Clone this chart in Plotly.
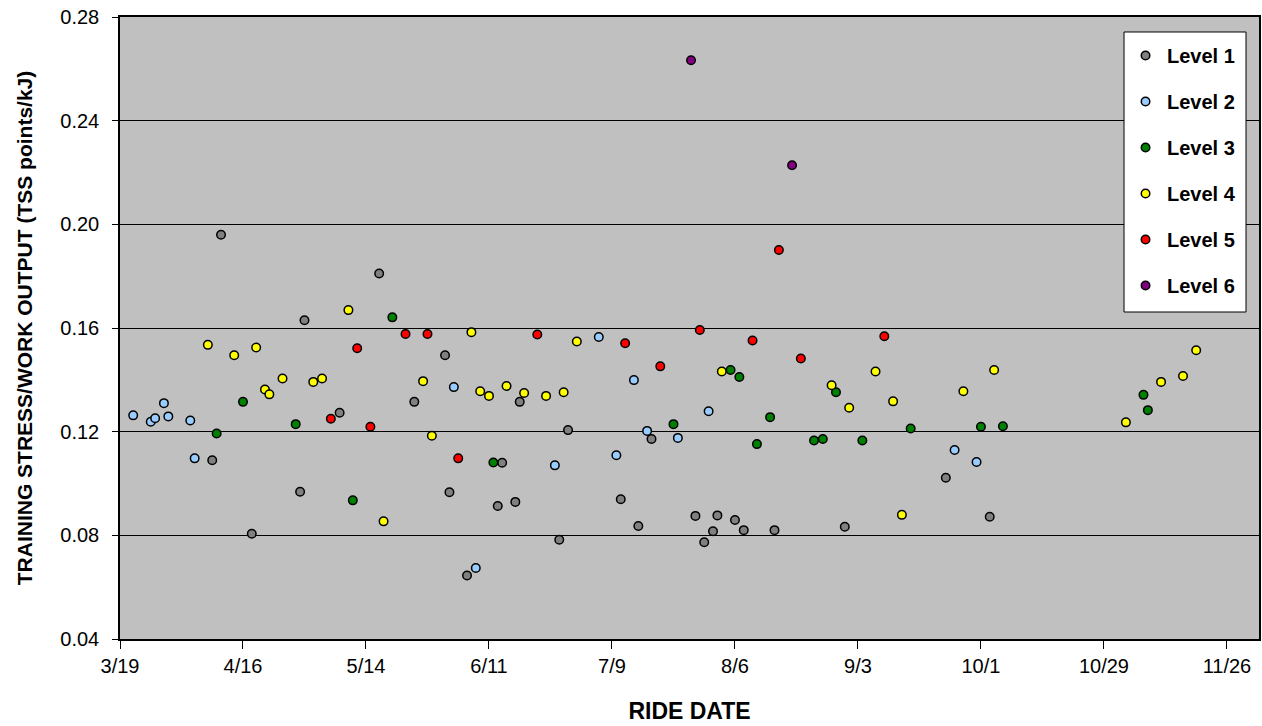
import plotly.graph_objects as go
from datetime import datetime, timedelta

YEAR = 2007

# ---- data (ride date "m/d", TSS per kJ) ----
level1_dates = ["4/9", "4/11", "4/18", "4/29", "4/30", "5/8", "5/17", "5/25", "6/1", "6/2",
                "6/6", "6/13", "6/14", "6/17", "6/18", "6/27", "6/29", "7/11", "7/15", "7/18",
                "7/28", "7/30", "8/1", "8/2", "8/6", "8/8", "8/15", "8/31", "9/23", "10/3"]
level1_values = [0.109, 0.196, 0.0806, 0.0968, 0.163, 0.1273, 0.181, 0.1315, 0.1495, 0.0966,
                 0.0645, 0.0913, 0.108, 0.0929, 0.1315, 0.0783, 0.1206, 0.0939, 0.0836, 0.1172,
                 0.0875, 0.0773, 0.0816, 0.0877, 0.0859, 0.082, 0.082, 0.0833, 0.1022, 0.0872]

level2_dates = ["3/22", "3/26", "3/27", "3/29", "3/30", "4/4", "4/5", "6/3", "6/8", "6/26",
                "7/6", "7/10", "7/14", "7/17", "7/24", "7/31", "9/25", "9/30"]
level2_values = [0.1263, 0.1238, 0.1252, 0.131, 0.1259, 0.1243, 0.1097, 0.1372, 0.0674, 0.107,
                 0.1565, 0.1109, 0.1399, 0.1203, 0.1176, 0.1279, 0.1129, 0.1083]

level3_dates = ["4/10", "4/16", "4/28", "5/11", "5/20", "6/12", "7/23", "8/5", "8/7", "8/11",
                "8/14", "8/24", "8/26", "8/29", "9/4", "9/15", "10/1", "10/6", "11/7", "11/8"]
level3_values = [0.1193, 0.1315, 0.1229, 0.0935, 0.1641, 0.1081, 0.1229, 0.1438, 0.1411, 0.1152,
                 0.1256, 0.1166, 0.1172, 0.1352, 0.1166, 0.1212, 0.1219, 0.1221, 0.1342, 0.1283]

level4_dates = ["4/8", "4/14", "4/19", "4/21", "4/22", "4/25", "5/2", "5/4", "5/10", "5/18",
                "5/27", "5/29", "6/7", "6/9", "6/11", "6/15", "6/19", "6/24", "6/28", "7/1",
                "8/3", "8/28", "9/1", "9/7", "9/11", "9/13", "9/27", "10/4", "11/3", "11/11",
                "11/16", "11/19"]
level4_values = [0.1535, 0.1495, 0.1525, 0.1363, 0.1344, 0.1405, 0.1392, 0.1405, 0.1669, 0.0854,
                 0.1395, 0.1184, 0.1584, 0.1356, 0.1338, 0.1376, 0.1349, 0.1338, 0.1352, 0.1548,
                 0.1432, 0.1379, 0.1292, 0.1432, 0.1317, 0.0879, 0.1356, 0.1438, 0.1236, 0.1392,
                 0.1415, 0.1514]

level5_dates = ["5/6", "5/12", "5/15", "5/23", "5/28", "6/4", "6/22", "7/12", "7/20", "7/29",
                "8/10", "8/16", "8/21", "9/9"]
level5_values = [0.125, 0.1522, 0.1219, 0.1577, 0.1577, 0.1097, 0.1575, 0.1541, 0.1452, 0.1592,
                 0.1552, 0.1901, 0.1482, 0.1568]

level6_dates = ["7/27", "8/19"]
level6_values = [0.2633, 0.2228]

series_names = ["Level 1", "Level 2", "Level 3", "Level 4", "Level 5", "Level 6"]
series_colors = ["#808080", "#99CCFF", "#008000", "#FFFF00", "#FF0000", "#800080"]

x_tick_labels = ["3/19", "4/16", "5/14", "6/11", "7/9", "8/6", "9/3", "10/1", "10/29", "11/26"]
y_tick_values = [0.04, 0.08, 0.12, 0.16, 0.20, 0.24, 0.28]


def to_date(md):
    m, d = md.split("/")
    return datetime(YEAR, int(m), int(d))


all_dates = [level1_dates, level2_dates, level3_dates, level4_dates, level5_dates, level6_dates]
all_values = [level1_values, level2_values, level3_values, level4_values, level5_values, level6_values]

FONT = "Liberation Sans, Arial, sans-serif"

fig = go.Figure()
for name, color, ds, vs in zip(series_names, series_colors, all_dates, all_values):
    fig.add_trace(go.Scatter(
        x=[to_date(d) for d in ds], y=vs, mode="markers", name=name,
        legendgroup=name,
        marker=dict(symbol="circle", size=8.5, color=color,
                    line=dict(color="black", width=1.5)),
    ))

x_start = to_date("3/19")
x_end = x_start + timedelta(days=259.3)

# legend frame (white box with black border) behind the legend entries
fig.add_shape(type="rect", xref="paper", yref="paper",
              x0=0.8815, x1=0.9886, y0=0.5257, y1=0.9759,
              fillcolor="white", line=dict(color="black", width=1), layer="above")

fig.update_layout(
    width=1262, height=726,
    margin=dict(l=120, r=3, t=17, b=87),
    paper_bgcolor="white",
    plot_bgcolor="#C0C0C0",
    font=dict(family=FONT, size=20, color="black"),
    showlegend=True,
    legend=dict(
        x=0.8815, y=0.9695, xanchor="left", yanchor="top",
        bgcolor="rgba(0,0,0,0)", borderwidth=0,
        font=dict(family=FONT, size=20, color="black", weight="bold"),
        tracegroupgap=17,
        itemwidth=33,
    ),
    xaxis=dict(
        type="date",
        range=[x_start, x_end],
        tickvals=[to_date(t) for t in x_tick_labels],
        ticktext=x_tick_labels,
        ticks="outside", ticklen=8, tickcolor="black", tickwidth=1,
        showgrid=False, zeroline=False,
        showline=True, linecolor="black", linewidth=1.5, mirror=True,
        tickfont=dict(family=FONT, size=20),
        ticklabeloverflow="allow",
        automargin=False,
        title=dict(text="RIDE DATE", font=dict(family=FONT, size=23, weight="bold"), standoff=27),
    ),
    yaxis=dict(
        range=[0.04, 0.28],
        tickvals=y_tick_values,
        tickformat=".2f",
        ticks="outside", ticklen=6, tickcolor="black", tickwidth=1,
        ticklabelstandoff=9,
        ticklabeloverflow="allow",
        automargin=False,
        showgrid=True, gridcolor="black", gridwidth=1,
        zeroline=False,
        showline=True, linecolor="black", linewidth=1.5, mirror=True,
        tickfont=dict(family=FONT, size=20),
        title=dict(text="TRAINING STRESS/WORK OUTPUT (TSS points/kJ)",
                   font=dict(family=FONT, size=21, weight="bold"), standoff=22),
    ),
)

# remove the browser's default 8px page margin so the figure fills the window exactly
fig.write_html("out.html", config={"displayModeBar": False},
               post_script="document.body.style.margin='0';")
